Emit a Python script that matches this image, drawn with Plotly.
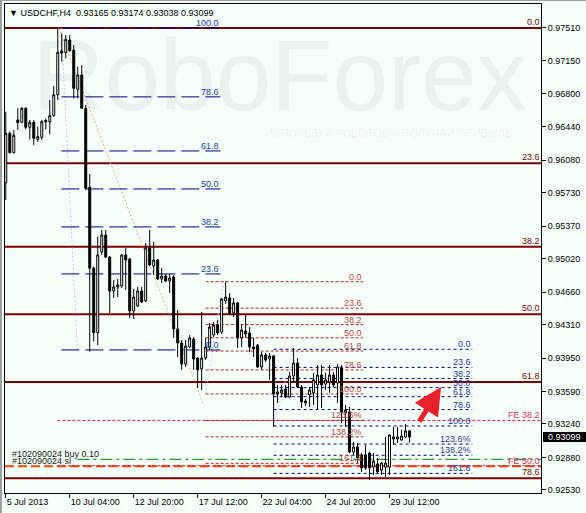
import plotly.graph_objects as go

# ---------------- data (USDCHF H4) ----------------
bar_open = [0.95838, 0.96370, 0.96161, 0.96514, 0.96489, 0.96640, 0.96435, 0.96489, 0.96306, 0.96327,
            0.96510, 0.96495, 0.96560, 0.96786, 0.97257, 0.97239, 0.97375, 0.97268, 0.96844, 0.96998,
            0.96640, 0.95789, 0.94917, 0.94223, 0.95092, 0.95275, 0.95038, 0.94672, 0.94715, 0.94726,
            0.95060, 0.95017, 0.94457, 0.94510, 0.94672, 0.94564, 0.95135, 0.94941, 0.95006, 0.94801,
            0.94833, 0.94780, 0.94823, 0.94263, 0.94112, 0.93886, 0.94069, 0.94155, 0.93950, 0.93832,
            0.93950, 0.94069, 0.94198, 0.94306, 0.94230, 0.94564, 0.94597, 0.94435, 0.94543, 0.94166,
            0.94241, 0.94220, 0.94069, 0.94090, 0.93853, 0.93983, 0.93940, 0.93972, 0.93563, 0.93574,
            0.93617, 0.93530, 0.93756, 0.93896, 0.93638, 0.93487, 0.93552, 0.93574, 0.93660, 0.93767,
            0.93670, 0.93692, 0.93767, 0.93681, 0.93843, 0.93358, 0.93369, 0.92938, 0.92992, 0.92906,
            0.92906, 0.92927, 0.92776, 0.92809, 0.92744, 0.92776, 0.92776, 0.93078, 0.93078, 0.93067,
            0.93100, 0.93165]
bar_high = [0.96603, 0.96388, 0.96406, 0.96640, 0.96650, 0.96650, 0.96514, 0.96514, 0.96442, 0.96514,
            0.96528, 0.96729, 0.96880, 0.97505, 0.97447, 0.97429, 0.97429, 0.97321, 0.97088, 0.97106,
            0.96675, 0.95932, 0.94934, 0.95257, 0.95329, 0.95329, 0.95049, 0.94790, 0.94801, 0.95070,
            0.95135, 0.95027, 0.94693, 0.94715, 0.94715, 0.95189, 0.95329, 0.95200, 0.95017, 0.94920,
            0.94855, 0.94855, 0.94844, 0.94467, 0.94144, 0.94144, 0.94198, 0.94177, 0.93961, 0.94446,
            0.94166, 0.94327, 0.94338, 0.94360, 0.94597, 0.94772, 0.94650, 0.94597, 0.94553, 0.94306,
            0.94414, 0.94284, 0.94166, 0.94100, 0.94015, 0.94004, 0.94004, 0.93983, 0.93660, 0.93660,
            0.93660, 0.93800, 0.94058, 0.93950, 0.93660, 0.93509, 0.93638, 0.93789, 0.93875, 0.93875,
            0.93789, 0.93875, 0.93800, 0.93886, 0.93875, 0.93444, 0.93423, 0.93046, 0.93035, 0.92927,
            0.93013, 0.92940, 0.92927, 0.92873, 0.92830, 0.93100, 0.93130, 0.93207, 0.93207, 0.93175,
            0.93240, 0.93174]
bar_low = [0.95652, 0.96155, 0.96155, 0.96406, 0.96478, 0.96413, 0.96306, 0.96244, 0.96280, 0.96298,
           0.96413, 0.96360, 0.96549, 0.96729, 0.97142, 0.97178, 0.97249, 0.96747, 0.96747, 0.96640,
           0.95760, 0.94018, 0.94126, 0.94090, 0.95060, 0.95027, 0.94435, 0.94597, 0.94607, 0.94704,
           0.94683, 0.94381, 0.94370, 0.94500, 0.94543, 0.94553, 0.94940, 0.94844, 0.94790, 0.94758,
           0.94769, 0.94650, 0.94166, 0.93961, 0.93821, 0.93853, 0.94058, 0.93821, 0.93627, 0.93606,
           0.93929, 0.94037, 0.94177, 0.94198, 0.94209, 0.94532, 0.94414, 0.94392, 0.94058, 0.94069,
           0.94166, 0.94015, 0.93961, 0.93843, 0.93821, 0.93907, 0.93713, 0.93207, 0.93466, 0.93530,
           0.93520, 0.93520, 0.93681, 0.93627, 0.93412, 0.93433, 0.93422, 0.93444, 0.93390, 0.93412,
           0.93606, 0.93574, 0.93638, 0.93466, 0.93250, 0.93207, 0.92927, 0.92906, 0.92819, 0.92723,
           0.92744, 0.92636, 0.92690, 0.92712, 0.92690, 0.92669, 0.92690, 0.93013, 0.93035, 0.93060,
           0.93089, 0.93038]
bar_close = [0.96370, 0.96161, 0.96349, 0.96485, 0.96640, 0.96435, 0.96489, 0.96317, 0.96334, 0.96495,
             0.96495, 0.96560, 0.96786, 0.97243, 0.97235, 0.97383, 0.97260, 0.96855, 0.96998, 0.96640,
             0.95778, 0.94917, 0.94223, 0.95060, 0.95275, 0.95038, 0.94672, 0.94715, 0.94737, 0.95060,
             0.95006, 0.94457, 0.94607, 0.94672, 0.94553, 0.95135, 0.94952, 0.95006, 0.94801, 0.94833,
             0.94780, 0.94812, 0.94263, 0.94112, 0.93886, 0.94080, 0.94166, 0.93940, 0.93821, 0.93950,
             0.94069, 0.94284, 0.94306, 0.94220, 0.94586, 0.94607, 0.94435, 0.94543, 0.94166, 0.94252,
             0.94209, 0.94069, 0.94047, 0.93853, 0.93983, 0.93929, 0.93972, 0.93563, 0.93584, 0.93606,
             0.93530, 0.93756, 0.93896, 0.93638, 0.93476, 0.93466, 0.93606, 0.93714, 0.93767, 0.93660,
             0.93714, 0.93767, 0.93660, 0.93853, 0.93369, 0.93390, 0.92938, 0.92992, 0.92873, 0.92766,
             0.92766, 0.92766, 0.92841, 0.92723, 0.92819, 0.92819, 0.93121, 0.93100, 0.93100, 0.93110,
             0.93164, 0.93099]
bar_index = list(range(len(bar_open)))

time_tick_bars = [0, 16, 32, 48, 64, 80, 96]
time_tick_labels = ["5 Jul 2013", "10 Jul 04:00", "12 Jul 20:00", "17 Jul 12:00",
                    "22 Jul 04:00", "24 Jul 20:00", "29 Jul 12:00"]
price_ticks = [0.97510, 0.97150, 0.96800, 0.96440, 0.96080, 0.95730, 0.95370, 0.95020,
               0.94660, 0.94310, 0.93950, 0.93590, 0.93240, 0.92880, 0.92530]
price_range = [0.92496, 0.97763]
bar_range = [-0.2, 133.9]

# big Fibonacci retracement (solid, whole width)
big_fib_ratios = [0.0, 23.6, 38.2, 50.0, 61.8, 78.6]
big_fib_labels = ["0.0", "23.6", "38.2", "50.0", "61.8", "78.6"]
big_fib_zero = 0.97505
big_fib_hundred = 0.91335

# Fibonacci #1 (long navy dashes)
fib1_ratios = [100.0, 78.6, 61.8, 50.0, 38.2, 23.6, 0.0]
fib1_labels = ["100.0", "78.6", "61.8", "50.0", "38.2", "23.6", "0.0"]
fib1_zero = 0.94037
fib1_hundred = 0.97505
fib1_bars = [13.9, 53.7]
fib1_trend_bars = [13.9, 17.9]

# Fibonacci #2 (short red dashes)
fib2_ratios = [0.0, 23.6, 38.2, 50.0, 61.8, 78.6, 100.0, 123.6, 138.2, 161.8]
fib2_labels = ["0.0", "23.6", "38.2", "50.0", "61.8", "78.6", "100.0", "123.6%", "138.2%", "161.8"]
fib2_zero = 0.94772
fib2_hundred = 0.93563
fib2_bars = [50.0, 89.4]
fib2_trend_bars = [50.0, 54.4]

# Fibonacci #3 (short navy dashes)
fib3_ratios = [0.0, 23.6, 38.2, 50.0, 61.8, 78.6, 100.0, 123.6, 138.2, 161.8]
fib3_labels = ["0.0", "23.6", "38.2", "50.0", "61.8", "78.6", "100.0", "123.6%", "138.2%", "161.8"]
fib3_zero = 0.94044
fib3_hundred = 0.93218
fib3_bars = [67.0, 116.7]
fib3_trend_bars = [67.0, 72.0]

# big fib trend line (salmon dots)
trend_bars = [13.2, 49.5]
trend_prices = [0.97505, 0.93444]

# expansion levels
fe_prices = [0.93278, 0.92790]
fe_labels = ["FE 38.2", "FE 50.0"]
fe_start_bar = 12.9

# order lines
buy_price = 0.92859
buy_start_bar = 17.9
sl_price = 0.92784
order_labels = ["#102090024 buy 0.10", "#102090024 sl"]
order_label_prices = [0.92915, 0.92840]

# arrow
arrow_tail = (103.2, 0.93250)
arrow_head = (108.9, 0.93638)

last_price = 0.93099
title_text = "\u25BC USDCHF,H4  0.93165 0.93174 0.93038 0.93099"

FONT = "Liberation Sans, Arial, sans-serif"
BG = "#F5FFFA"


def level(zero, hundred, r):
    return zero + (hundred - zero) * r / 100.0


fig = go.Figure()

# watermark (below everything)
fig.add_trace(go.Scatter(x=[68.5], y=[0.96891], mode="text", text=["RoboForex"],
                         textfont=dict(size=100, color="rgba(60,90,90,0.07)", family=FONT),
                         hoverinfo="skip", showlegend=False))
fig.add_trace(go.Scatter(x=[95.7], y=[0.96360], mode="text",
                         text=["ИСПОЛЬЗУЙ РОБОТОВ – ПОЛУЧАЙ ПРИБЫЛЬ"],
                         textfont=dict(size=11, color="rgba(60,90,90,0.08)", family=FONT),
                         hoverinfo="skip", showlegend=False))

fig.add_trace(go.Candlestick(
    x=bar_index, open=bar_open, high=bar_high, low=bar_low, close=bar_close,
    increasing=dict(line=dict(color="black", width=1), fillcolor="white"),
    decreasing=dict(line=dict(color="black", width=1), fillcolor="black"),
    whiskerwidth=0, showlegend=False, hoverinfo="skip"))

shapes = []
annos = []


def hline(x0, x1, y, color, width, dash, xref="x"):
    shapes.append(dict(type="line", xref=xref, yref="y", x0=x0, x1=x1, y0=y, y1=y,
                       line=dict(color=color, width=width, dash=dash), layer="below"))


def label(x, y, text, color, xref="x", xanchor="right", yshift=-1):
    annos.append(dict(x=x, y=y, xref=xref, yref="y", text=text, showarrow=False,
                      xanchor=xanchor, yanchor="bottom", yshift=yshift, borderpad=0,
                      font=dict(size=9, color=color, family=FONT)))


# trend lines
shapes.append(dict(type="line", xref="x", yref="y", x0=trend_bars[0], x1=trend_bars[1],
                   y0=trend_prices[0], y1=trend_prices[1],
                   line=dict(color="#FFA07A", width=1, dash="2px,2px"), layer="below"))
for tb, z, h in [(fib1_trend_bars, fib1_hundred, fib1_zero),
                 (fib2_trend_bars, fib2_hundred, fib2_zero),
                 (fib3_trend_bars, fib3_hundred, fib3_zero)]:
    shapes.append(dict(type="line", xref="x", yref="y", x0=tb[0], x1=tb[1], y0=z, y1=h,
                       line=dict(color="#C8C8F0", width=1, dash="2px,2px"), layer="below"))

# fib 1
for r, t in zip(fib1_ratios, fib1_labels):
    y = level(fib1_zero, fib1_hundred, r)
    hline(fib1_bars[0], fib1_bars[1], y, "#000080", 1, "18px,6px")
    label(fib1_bars[1], y, t, "#2040A0")

# fib 2
for r, t in zip(fib2_ratios, fib2_labels):
    y = level(fib2_zero, fib2_hundred, r)
    hline(fib2_bars[0], fib2_bars[1], y, "#B22222", 1, "3px,2px")
    label(fib2_bars[1], y, t, "#C04848")

# fib 3
for r, t in zip(fib3_ratios, fib3_labels):
    y = level(fib3_zero, fib3_hundred, r)
    hline(fib3_bars[0], fib3_bars[1], y, "#000080", 1, "3px,3px")
    label(fib3_bars[1], y, t, "#2838A0")

# FE levels
for p, t in zip(fe_prices, fe_labels):
    hline(fe_start_bar, bar_range[1], p, "#DC143C", 1, "3px,2px")
    label(1, p, t, "#E0306A", xref="paper")

# order lines
hline(buy_start_bar, bar_range[1], buy_price, "#008000", 1, "12px,4px,3px,4px")
shapes.append(dict(type="line", xref="paper", yref="y", x0=0, x1=1, y0=sl_price, y1=sl_price,
                   line=dict(color="#FF4500", width=2, dash="9px,4px"), layer="below"))
for t, p in zip(order_labels, order_label_prices):
    annos.append(dict(x=0, y=p, xref="paper", yref="y", text=t, showarrow=False,
                      xanchor="left", yanchor="middle", xshift=6, borderpad=0,
                      font=dict(size=9, color="#202020", family=FONT)))

# big fib (solid dark red)
for r, t in zip(big_fib_ratios, big_fib_labels):
    y = level(big_fib_zero, big_fib_hundred, r)
    shapes.append(dict(type="line", xref="paper", yref="y", x0=0, x1=1, y0=y, y1=y,
                       line=dict(color="#800000", width=2), layer="below"))
    label(1, y, t, "#800000", xref="paper", yshift=0)

# arrow
annos.append(dict(x=arrow_head[0], y=arrow_head[1], ax=arrow_tail[0], ay=arrow_tail[1],
                  xref="x", yref="y", axref="x", ayref="y", showarrow=True, text="",
                  arrowhead=2, arrowsize=1.1, arrowwidth=5, arrowcolor="#E8202A"))

# title
annos.append(dict(x=0, y=1, xref="paper", yref="paper", text=title_text, showarrow=False,
                  xanchor="left", yanchor="top", xshift=3, yshift=-3, borderpad=0,
                  font=dict(size=9, color="black", family=FONT)))

# last price box
lp_frac = (last_price - price_range[0]) / (price_range[1] - price_range[0])
shapes.append(dict(type="rect", xref="paper", yref="paper", x0=1 + 2 / 536, x1=1 + 45 / 536,
                   y0=lp_frac - 5 / 489, y1=lp_frac + 5 / 489, fillcolor="black",
                   line=dict(width=0)))
annos.append(dict(x=1, y=last_price, xref="paper", yref="y", text="0.93099", showarrow=False,
                  xanchor="left", yanchor="middle", xshift=6, borderpad=0,
                  font=dict(size=9, color="white", family=FONT)))

# window frame (gray)
shapes.append(dict(type="rect", xref="paper", yref="paper", x0=-5 / 536, x1=-3 / 536,
                   y0=-20 / 489, y1=1 + 4 / 489, fillcolor="#A0A0A0", line=dict(width=0)))
shapes.append(dict(type="rect", xref="paper", yref="paper", x0=-5 / 536, x1=1 + 45 / 536,
                   y0=1 + 3 / 489, y1=1 + 4 / 489, fillcolor="#A0A0A0", line=dict(width=0)))

fig.update_layout(
    width=586, height=513,
    margin=dict(l=5, r=45, t=4, b=20),
    paper_bgcolor=BG, plot_bgcolor=BG,
    showlegend=False, hovermode=False,
    shapes=shapes, annotations=annos,
    xaxis=dict(range=bar_range, rangeslider=dict(visible=False), showgrid=False, zeroline=False,
               tickvals=time_tick_bars, ticktext=time_tick_labels, ticks="outside", ticklen=4,
               tickcolor="black", ticklabelposition="outside right",
               tickfont=dict(size=9, color="black", family=FONT),
               showline=True, linecolor="black", linewidth=1, mirror=True),
    yaxis=dict(range=price_range, side="right", showgrid=False, zeroline=False,
               tickvals=price_ticks, ticktext=[f"{v:.5f}" for v in price_ticks],
               ticks="outside", ticklen=4, tickcolor="black",
               tickfont=dict(size=9, color="black", family=FONT),
               showline=True, linecolor="black", linewidth=1, mirror=True),
)

fig.write_html("out.html", config={"displayModeBar": False},
               post_script="document.body.style.margin='0';document.body.style.background='#F5FFFA';")
